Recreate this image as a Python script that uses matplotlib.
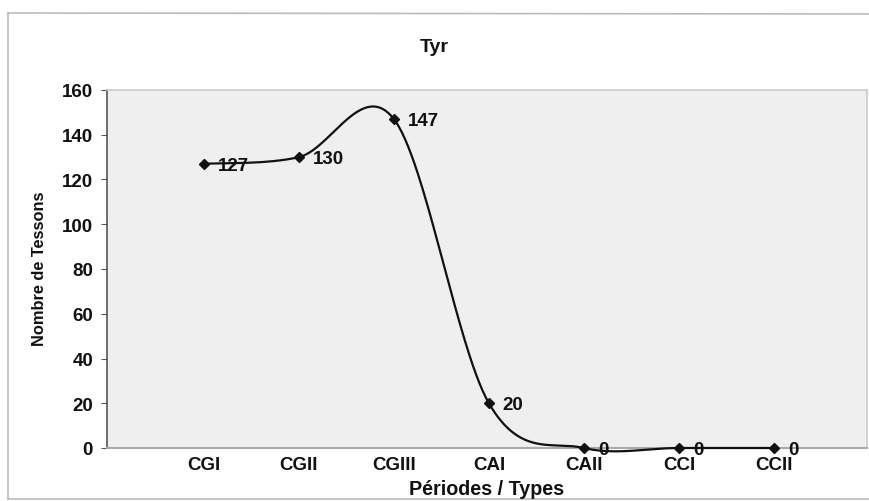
import matplotlib
matplotlib.use("Agg")
import matplotlib.pyplot as plt
import numpy as np
from matplotlib.lines import Line2D

categories = ["CGI", "CGII", "CGIII", "CAI", "CAII", "CCI", "CCII"]
values = [127, 130, 147, 20, 0, 0, 0]
yticks = [0, 20, 40, 60, 80, 100, 120, 140, 160]

plt.rcParams['font.family'] = ['Liberation Sans', 'DejaVu Sans']

W, H = 869, 502
fig = plt.figure(figsize=(W / 100, H / 100), dpi=100)
fig.patch.set_facecolor("white")

left, right, top, bottom = 107, 867, 91, 449
ax = fig.add_axes([left / W, 1 - bottom / H, (right - left) / W, (bottom - top) / H])
ax.set_facecolor("#efefef")

x = np.arange(len(categories), dtype=float)
y = np.array(values, dtype=float)

# Excel-like smoothed curve (Catmull-Rom Bezier)
px = np.concatenate([[x[0]], x, [x[-1]]])
py = np.concatenate([[y[0]], y, [y[-1]]])
cx, cy = [], []
t = np.linspace(0, 1, 60)
for i in range(1, len(px) - 2):
    p0 = np.array([px[i], py[i]])
    p3 = np.array([px[i + 1], py[i + 1]])
    p1 = p0 + (np.array([px[i + 1], py[i + 1]]) - np.array([px[i - 1], py[i - 1]])) / 6
    p2 = p3 - (np.array([px[i + 2], py[i + 2]]) - np.array([px[i], py[i]])) / 6
    b = ((1 - t) ** 3)[:, None] * p0 + (3 * (1 - t) ** 2 * t)[:, None] * p1 + \
        (3 * (1 - t) * t ** 2)[:, None] * p2 + (t ** 3)[:, None] * p3
    cx.extend(b[:, 0]); cy.extend(b[:, 1])
ax.plot(cx, cy, color="#111111", lw=1.6, clip_on=False, zorder=3)
ax.plot(x, y, linestyle="none", marker="D", ms=5, color="#111111", clip_on=False, zorder=4)

for xi, yi in zip(x, y):
    ax.annotate(f"{int(yi)}", (xi, yi), xytext=(10, -1), textcoords="offset points",
                ha="left", va="center", fontsize=13.5, fontweight="bold", color="#111111",
                annotation_clip=False, zorder=5)

ax.set_xlim(-1.02, 6.98)
ax.set_ylim(0, 160)
ax.set_yticks(yticks)
ax.set_yticklabels([str(v) for v in yticks], fontsize=13.5, fontweight="bold", color="#111111")
ax.set_xticks(x)
ax.set_xticklabels(categories, fontsize=13.5, fontweight="bold", color="#111111")
ax.tick_params(axis="x", length=0, pad=6)
ax.tick_params(axis="y", length=4, direction="out", color="#555555", pad=6)

for s in ["top", "right"]:
    ax.spines[s].set_color("#cccccc")
    ax.spines[s].set_linewidth(1.2)
ax.spines["left"].set_color("#555555")
ax.spines["left"].set_linewidth(1.2)
ax.spines["bottom"].set_color("#aaaaaa")
ax.spines["bottom"].set_linewidth(1.5)

fig.text(434 / W, 1 - 47 / H, "Tyr", ha="center", va="center", fontsize=14, fontweight="bold", color="#111111")
fig.text(40 / W, 1 - 269 / H, "Nombre de Tessons", ha="center", va="center", rotation=90,
         fontsize=11.8, fontweight="bold", color="#111111")
fig.text(487 / W, 1 - 490 / H, "Périodes / Types", ha="center", va="center",
         fontsize=14.2, fontweight="bold", color="#111111")

# outer chart frame
fig.add_artist(Line2D([8 / W, 8 / W], [1 - 14 / H, 1 - 500 / H], transform=fig.transFigure, color="#bbbbbb", lw=1.2))
fig.add_artist(Line2D([8 / W, 1.0], [1 - 14 / H, 1 - 15 / H], transform=fig.transFigure, color="#bbbbbb", lw=1.2))
fig.add_artist(Line2D([8 / W, 1.0], [1 - 500 / H, 1 - 500 / H], transform=fig.transFigure, color="#bbbbbb", lw=1.2))

fig.savefig("out.png", dpi=100, facecolor="white")
